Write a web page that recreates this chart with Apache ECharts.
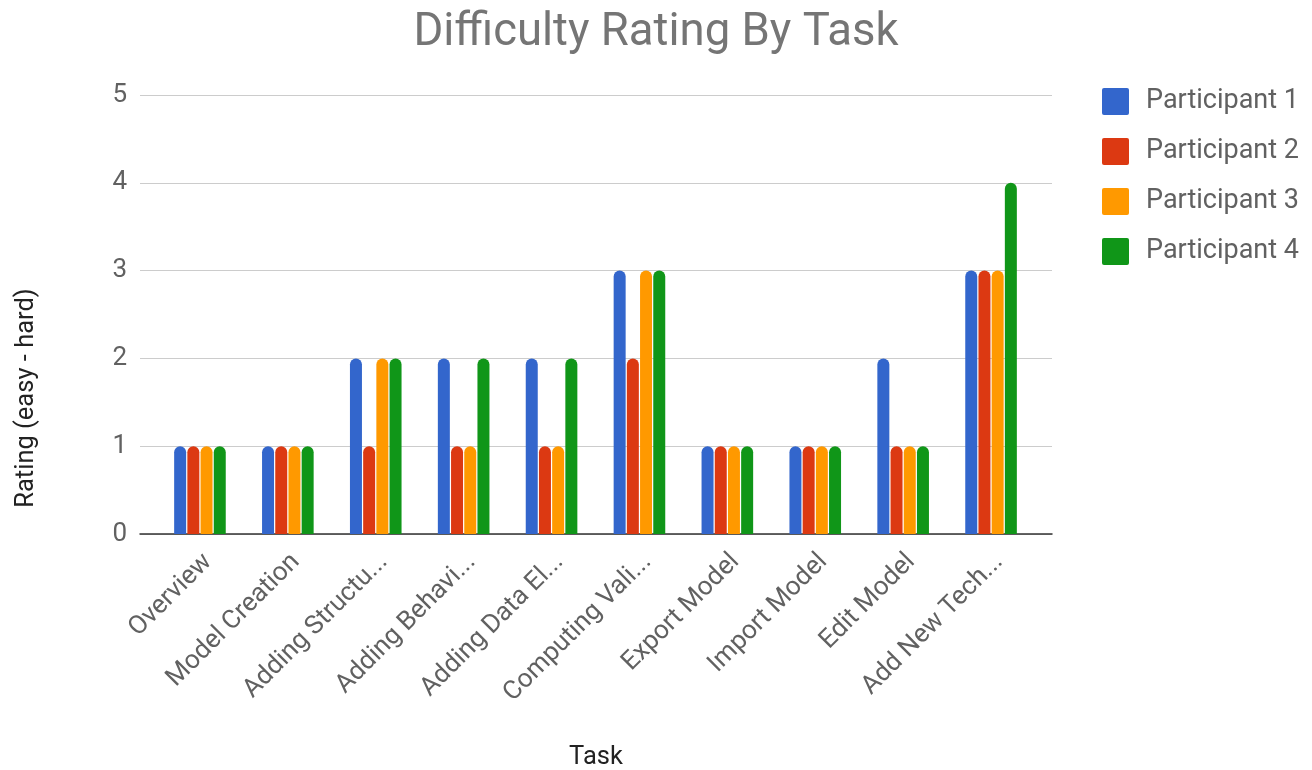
<!DOCTYPE html>
<html>
<head>
<meta charset="utf-8">
<script src="https://cdn.jsdelivr.net/npm/echarts@6/dist/echarts.min.js"></script>
<style>
html,body{margin:0;padding:0;background:#fff;}
#chart{width:1312px;height:770px;}
</style>
</head>
<body>
<div id="chart"></div>
<script>
var categories = ["Overview", "Model Creation", "Adding Structu...", "Adding Behavi...", "Adding Data El...", "Computing Vali...", "Export Model", "Import Model", "Edit Model", "Add New Tech..."];
var seriesNames = ["Participant 1", "Participant 2", "Participant 3", "Participant 4"];
var participant1 = [1, 1, 2, 2, 2, 3, 1, 1, 2, 3];
var participant2 = [1, 1, 1, 1, 1, 2, 1, 1, 1, 3];
var participant3 = [1, 1, 2, 1, 1, 3, 1, 1, 1, 3];
var participant4 = [1, 1, 2, 2, 2, 3, 1, 1, 1, 4];
var seriesColors = ["#3366cc", "#dc3912", "#ff9900", "#109618"];
var yTicks = [0, 1, 2, 3, 4, 5];

var font = "Roboto, 'Noto Sans', Arial, sans-serif";
var values = [participant1, participant2, participant3, participant4];

var chart = echarts.init(document.getElementById('chart'), null, {renderer: 'canvas'});
var option = {
  animation: false,
  backgroundColor: '#ffffff',
  textStyle: {fontFamily: font},
  title: {
    text: 'Difficulty Rating By Task',
    left: 'center',
    top: 6,
    textStyle: {fontFamily: font, fontSize: 45.5, fontWeight: 'normal', color: '#757575'}
  },
  legend: {
    orient: 'vertical',
    left: 1097,
    top: 83,
    itemWidth: 27,
    itemHeight: 27,
    itemGap: 23,
    icon: 'path://M2,0 L25,0 Q27,0 27,2 L27,25 Q27,27 25,27 L2,27 Q0,27 0,25 L0,2 Q0,0 2,0 Z',
    data: seriesNames,
    textStyle: {fontFamily: font, fontSize: 27, color: '#616161', padding: [0, 0, 0, 12]}
  },
  grid: [
    {left: 140, right: 260, top: 95, bottom: 236, outerBoundsMode: 'none', containLabel: false},
    {left: 156, right: 277, top: 95, bottom: 236, outerBoundsMode: 'none', containLabel: false},
    {left: 164, right: 269, top: 95, bottom: 236, outerBoundsMode: 'none', containLabel: false}
  ],
  xAxis: [
    {
      gridIndex: 0, type: 'value', min: 0, max: 1,
      axisLine: {show: true, lineStyle: {color: '#333333', width: 1.5}},
      axisTick: {show: false}, axisLabel: {show: false}, splitLine: {show: false},
      name: 'Task', nameLocation: 'middle', nameGap: 211,
      nameTextStyle: {fontFamily: font, fontSize: 25.5, color: '#222222'}
    },
    {
      gridIndex: 1, type: 'category', data: categories,
      axisLine: {show: false}, axisTick: {show: false}, axisLabel: {show: false}
    },
    {
      gridIndex: 2, type: 'category', data: categories,
      axisLine: {show: false}, axisTick: {show: false},
      axisLabel: {rotate: 45, margin: 24, interval: 0, fontFamily: font, fontSize: 26, color: '#616161'}
    }
  ],
  yAxis: [
    {
      gridIndex: 0, type: 'value', min: 0, max: 5, interval: 1,
      axisLine: {show: false}, axisTick: {show: false},
      axisLabel: {margin: 13, fontFamily: font, fontSize: 26, color: '#616161',
        formatter: function (v) { return yTicks.indexOf(v) >= 0 ? String(v) : ''; }},
      splitLine: {lineStyle: {color: '#cccccc', width: 1}}
    },
    {gridIndex: 1, type: 'value', min: 0, max: 5, show: false},
    {gridIndex: 2, type: 'value', min: 0, max: 5, show: false}
  ],
  graphic: [{
    type: 'text',
    x: 27, y: 398,
    rotation: Math.PI / 2,
    style: {text: 'Rating (easy - hard)', fontFamily: font, fontSize: 25.5, fill: '#222222',
      textAlign: 'center', textVerticalAlign: 'middle'}
  }],
  series: seriesNames.map(function (name, i) {
    return {
      name: name,
      type: 'bar',
      xAxisIndex: 1,
      yAxisIndex: 1,
      data: values[i],
      barWidth: 12,
      barGap: '10%',
      itemStyle: {color: seriesColors[i], borderRadius: [6, 6, 0, 0]}
    };
  })
};
chart.setOption(option);
</script>
</body>
</html>
